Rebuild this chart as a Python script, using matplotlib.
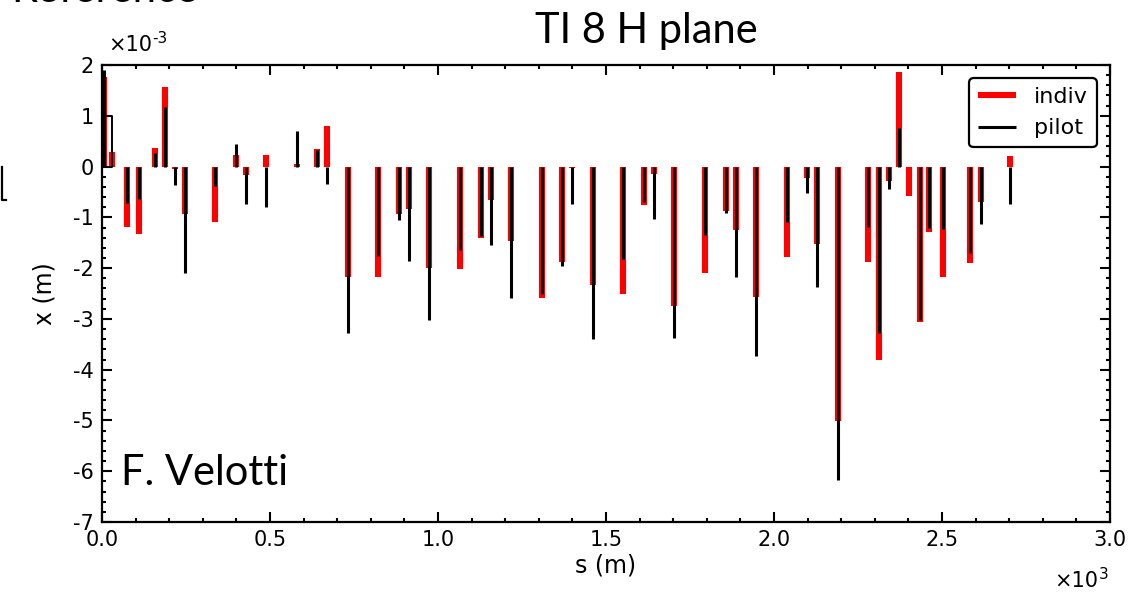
import numpy as np
import matplotlib
matplotlib.use('Agg')
import matplotlib.pyplot as plt
from matplotlib.ticker import FuncFormatter, MultipleLocator
from matplotlib.lines import Line2D

plt.rcParams['axes.unicode_minus'] = False

# 数据：位置 s (m) 与轨迹偏差 (1e-3 m)
s_pos = np.array([6, 29, 75, 109, 157, 187, 217, 247, 337, 398, 429, 488, 581, 641, 671,
                  733, 822, 885, 915, 974, 1065, 1127, 1157, 1217, 1309, 1369, 1400,
                  1460, 1552, 1613, 1643, 1703, 1796, 1856, 1887, 1946, 2038, 2098,
                  2128, 2189, 2281, 2311, 2341, 2373, 2403, 2433, 2462, 2503, 2583,
                  2615, 2702])
indiv = np.array([1.77, 0.28, -1.19, -1.32, 0.37, 1.57, -0.05, -0.93, -1.10, 0.23, -0.16,
                  0.23, 0.05, 0.35, 0.80, -2.17, -2.18, -0.93, -0.83, -1.99, -2.02,
                  -1.41, -0.65, -1.47, -2.59, -1.88, -0.02, -2.33, -2.51, -0.76, -0.14,
                  -2.74, -2.10, -0.88, -1.24, -2.56, -1.79, -0.23, -1.53, -5.01, -1.88,
                  -3.80, -0.29, 1.87, -0.58, -3.06, -1.29, -2.18, -1.89, -0.70, 0.20])
pilot = np.array([1.90, 0.0, -0.71, -0.63, 0.26, 1.18, -0.36, -2.09, -0.39, 0.45, -0.73,
                  -0.79, 0.71, 0.32, -0.35, -3.27, -1.76, -1.05, -1.86, -3.03, -1.65,
                  -1.36, -1.55, -2.59, -2.50, -1.96, -0.73, -3.39, -1.82, -0.69, -1.03,
                  -3.37, -1.34, -0.91, -2.18, -3.74, -1.10, -0.52, -2.37, -6.17, -1.19,
                  -3.28, -0.45, 0.75, 0.0, -3.03, -1.20, -1.22, -1.71, -1.14, -0.73])
# 起点处 pilot 的折线（矩形轮廓）
pilot_box_s = np.array([0, 0, 29, 29, 0])
pilot_box_x = np.array([0, 1.0, 1.0, 0, 0])

fig = plt.figure(figsize=(11.42, 5.97), dpi=100)
ax = fig.add_axes([0.0893, 0.1256, 0.8827, 0.7655])

ax.vlines(s_pos, 0, indiv * 1e-3, color='#ff0000', linewidth=4.4, label='indiv')
ax.vlines(s_pos, 0, pilot * 1e-3, color='black', linewidth=2.2, label='pilot')
ax.plot(pilot_box_s, pilot_box_x * 1e-3, color='black', linewidth=1.4)

ax.set_xlim(0, 3000)
ax.set_ylim(-7e-3, 2e-3)

ax.xaxis.set_major_locator(MultipleLocator(500))
ax.xaxis.set_minor_locator(MultipleLocator(100))
ax.yaxis.set_major_locator(MultipleLocator(1e-3))
ax.yaxis.set_minor_locator(MultipleLocator(0.2e-3))

# 刻度标签用短横线负号，量级单独写
ax.xaxis.set_major_formatter(FuncFormatter(lambda v, p: f'{v / 1e3:.1f}'))
ax.yaxis.set_major_formatter(FuncFormatter(lambda v, p: f'{round(v * 1e3):d}'))

ax.tick_params(which='both', direction='in', top=True, right=True, width=1.5, labelsize=15)
ax.tick_params(which='major', length=7, pad=6)
ax.tick_params(which='minor', length=3)
for sp in ax.spines.values():
    sp.set_linewidth(1.6)

# 量级标注：×10 加上标
t1 = ax.text(0.006, 1.022, '×10', transform=ax.transAxes, fontsize=15, va='bottom')
ax.annotate('-3', xy=(1, 1), xycoords=t1, xytext=(0.5, 3), textcoords='offset points',
            fontsize=11, va='top')
t2 = ax.text(0.988, -0.108, '×10', transform=ax.transAxes, fontsize=15, ha='right', va='top')
ax.annotate('3', xy=(1, 1), xycoords=t2, xytext=(0.5, 3), textcoords='offset points',
            fontsize=11, va='top')

ax.set_xlabel('s (m)', fontsize=17, labelpad=2)
ax.set_ylabel('x (m)', fontsize=17, labelpad=12)

leg = ax.legend(loc='upper right', fontsize=16, handlelength=1.7, fancybox=True,
                framealpha=1, edgecolor='black', borderaxespad=0.6)
leg.get_frame().set_linewidth(1.6)
for h in leg.legend_handles:
    h.set_solid_capstyle('round')

fig.text(0.566, 0.928, 'TI 8 H plane', fontsize=30, family='Lato', ha='center', va='baseline')
ax.text(0.019, 0.08, 'F. Velotti', transform=ax.transAxes, fontsize=30, family='Lato',
        va='baseline')
fig.text(0.01, 0.997, 'Reference', fontsize=30, family='Lato', va='baseline')
fig.add_artist(Line2D([0.0015, 0.0015, 0.005], [0.72, 0.665, 0.665],
                      transform=fig.transFigure, color='black', linewidth=1.6))

fig.savefig('out.png', dpi=100)
